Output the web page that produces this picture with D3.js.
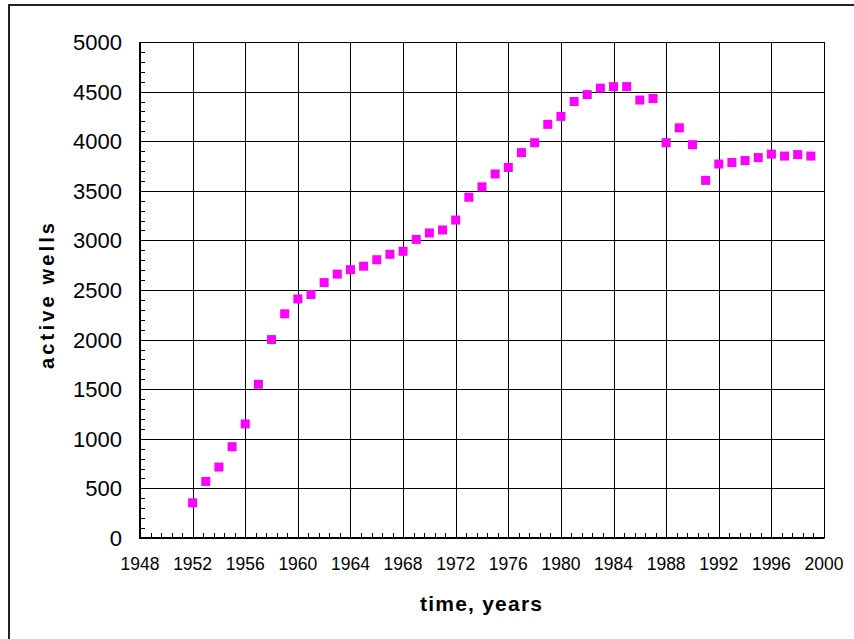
<!DOCTYPE html>
<html>
<head>
<meta charset="utf-8">
<script src="https://cdn.jsdelivr.net/npm/d3@7"></script>
<style>
    body { margin: 0; background: #fff; }
    svg text { font-family: "Liberation Sans", Arial, sans-serif; fill: #000; }
</style>
</head>
<body>
<svg width="854" height="639"></svg>
<script>
// years + active wells
var years = [1952, 1953, 1954, 1955, 1956, 1957, 1958, 1959, 1960, 1961,
    1962, 1963, 1964, 1965, 1966, 1967, 1968, 1969, 1970, 1971,
    1972, 1973, 1974, 1975, 1976, 1977, 1978, 1979, 1980, 1981,
    1982, 1983, 1984, 1985, 1986, 1987, 1988, 1989, 1990, 1991,
    1992, 1993, 1994, 1995, 1996, 1997, 1998, 1999];
var wells = [355, 570, 715, 920, 1150, 1550, 2000, 2260, 2410, 2455,
    2575, 2660, 2705, 2740, 2805, 2860, 2890, 3010, 3075, 3105,
    3205, 3435, 3540, 3670, 3735, 3885, 3985, 4170, 4250, 4400,
    4470, 4535, 4550, 4550, 4415, 4430, 3985, 4135, 3965, 3605,
    3770, 3785, 3805, 3835, 3870, 3850, 3865, 3850];

var xTicks = [1948, 1952, 1956, 1960, 1964, 1968, 1972, 1976, 1980, 1984, 1988, 1992, 1996, 2000];
var yTicks = [0, 500, 1000, 1500, 2000, 2500, 3000, 3500, 4000, 4500, 5000];
var xMinor = d3.range(0, 66).map(function (i) { return 1948 + i * 0.8; });
var yMinor = d3.range(0, 5001, 100);

var svg = d3.select("svg");

// plot box (note: "top" is taken by window.top)
var pLeft = 140, pRight = 824, pTop = 42, pBottom = 538;

var x = d3.scaleLinear().domain([1948, 2000]).range([pLeft, pRight]);
var y = d3.scaleLinear().domain([0, 5000]).range([pBottom, pTop]);

// outer frame
svg.append("rect")
    .attr("x", 9).attr("y", 5)
    .attr("width", 900).attr("height", 700)
    .attr("fill", "none").attr("stroke", "#222").attr("stroke-width", 2);

// grid
svg.append("g").selectAll("line").data(xTicks).enter().append("line")
    .attr("x1", function (d) { return Math.round(x(d)) + 0.5; })
    .attr("x2", function (d) { return Math.round(x(d)) + 0.5; })
    .attr("y1", pTop).attr("y2", pBottom)
    .attr("stroke", "#000").attr("stroke-width", 1);

svg.append("g").selectAll("line").data(yTicks).enter().append("line")
    .attr("y1", function (d) { return Math.round(y(d)) + 0.5; })
    .attr("y2", function (d) { return Math.round(y(d)) + 0.5; })
    .attr("x1", pLeft).attr("x2", pRight)
    .attr("stroke", "#000").attr("stroke-width", 1);

// minor ticks (inside)
svg.append("g").selectAll("line").data(xMinor).enter().append("line")
    .attr("x1", function (d) { return Math.round(x(d)) + 0.5; })
    .attr("x2", function (d) { return Math.round(x(d)) + 0.5; })
    .attr("y1", pBottom).attr("y2", pBottom - 5)
    .attr("stroke", "#000");

svg.append("g").selectAll("line").data(yMinor).enter().append("line")
    .attr("y1", function (d) { return Math.round(y(d)) + 0.5; })
    .attr("y2", function (d) { return Math.round(y(d)) + 0.5; })
    .attr("x1", pLeft).attr("x2", pLeft + 5)
    .attr("stroke", "#000");

// axis lines
svg.append("line").attr("x1", pLeft).attr("x2", pLeft).attr("y1", pTop).attr("y2", pBottom + 1)
    .attr("stroke", "#000").attr("stroke-width", 2);
svg.append("line").attr("x1", pLeft - 1).attr("x2", pRight + 0.5).attr("y1", pBottom).attr("y2", pBottom)
    .attr("stroke", "#000").attr("stroke-width", 2);

// tick labels
svg.append("g").selectAll("text").data(yTicks).enter().append("text")
    .attr("x", 122)
    .attr("y", function (d) { return y(d); })
    .attr("dy", "0.36em")
    .attr("text-anchor", "end")
    .style("font-size", "22px")
    .text(function (d) { return d; });

svg.append("g").selectAll("text").data(xTicks).enter().append("text")
    .attr("x", function (d) { return x(d); })
    .attr("y", 570)
    .attr("text-anchor", "middle")
    .style("font-size", "17.5px")
    .text(function (d) { return d; });

// axis titles
svg.append("text")
    .attr("x", 481).attr("y", 611)
    .attr("text-anchor", "middle")
    .attr("textLength", 122).attr("lengthAdjust", "spacing")
    .style("font-size", "21px").style("font-weight", "bold")
    .text("time, years");

svg.append("text")
    .attr("transform", "translate(54,296) rotate(-90)")
    .attr("text-anchor", "middle")
    .attr("textLength", 146).attr("lengthAdjust", "spacing")
    .style("font-size", "20px").style("font-weight", "bold")
    .text("active wells");

// markers
var sz = 9;
svg.append("g").selectAll("rect").data(years).enter().append("rect")
    .attr("x", function (d) { return x(d) - sz / 2; })
    .attr("y", function (d, i) { return y(wells[i]) - sz / 2; })
    .attr("width", sz).attr("height", sz)
    .attr("fill", "#ff00ff");
</script>
</body>
</html>
